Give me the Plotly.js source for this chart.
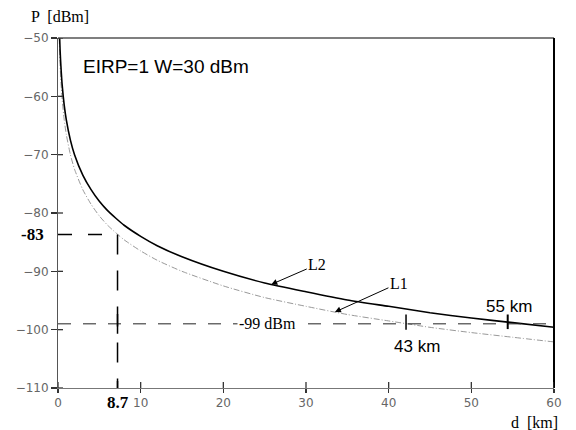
<!DOCTYPE html>
<html>
<head>
<meta charset="utf-8">
<script src="https://cdn.plot.ly/plotly-3.0.1.min.js"></script>
<style>html,body{margin:0;padding:0;background:#fff}#chart{width:576px;height:430px}</style>
</head>
<body>
<div id="chart"></div>
<script>
// distance d [km]
const distKm = [0.15, 0.2, 0.25, 0.3, 0.4, 0.5, 0.75, 1, 1.5, 2, 3, 4, 5, 6, 7, 8, 10, 12, 15, 20, 25, 30, 35, 40, 45, 50, 55, 60];
// received power P [dBm], curve L2 (solid)
const powerL2 = [null, -50.0, -52.0, -53.5, -56.0, -58.0, -61.5, -64.0, -67.5, -70.0, -73.5, -76.0, -78.0, -79.6, -80.9, -82.1, -84.0, -85.6, -87.5, -90.0, -92.0, -93.5, -94.9, -96.0, -97.1, -98.0, -98.8, -99.6];
// received power P [dBm], curve L1 (dash-dot)
const powerL1 = [-50.0, -52.5, -54.5, -56.0, -58.5, -60.5, -64.0, -66.5, -70.0, -72.5, -76.0, -78.5, -80.5, -82.1, -83.4, -84.6, -86.5, -88.1, -90.0, -92.5, -94.5, -96.0, -97.4, -98.5, -99.6, -100.5, -101.3, -102.1];
// axis ticks
const xTicks = [0, 10, 20, 30, 40, 50, 60];
const yTicks = [-50, -60, -70, -80, -90, -100, -110];
// reference levels / distances as drawn
const sensLevel = -83.7;      // labelled -83
const sensLabel = '-83';
const sensDist = 7.2;         // labelled 8.7
const sensDistLabel = '8.7';
const thresholdLevel = -99;
const thresholdLabel = '-99 dBm';
const rangeL1 = 42.1;         // labelled 43 km
const rangeL1Label = '43 km';
const rangeL2 = 54.4;         // labelled 55 km
const rangeL2Label = '55 km';

function interp(xs, ys, x) {
  for (let i = 1; i < xs.length; i++) {
    if (ys[i-1] == null) continue;
    if (x <= xs[i]) {
      const t = (x - xs[i-1]) / (xs[i] - xs[i-1]);
      return ys[i-1] + t * (ys[i] - ys[i-1]);
    }
  }
  return ys[ys.length-1];
}

const sansTick = {family: 'DejaVu Sans', size: 12, color: '#666'};
const serif = 'Liberation Serif';
const sans = 'Liberation Sans';

const traces = [
  {x: distKm, y: powerL1, mode: 'lines', line: {color: '#999', width: 1, dash: '6px,2px,1px,2px', shape: 'spline', smoothing: 0.6}, showlegend: false, hoverinfo: 'skip', connectgaps: false},
  {x: distKm, y: powerL2, mode: 'lines', line: {color: '#000', width: 1.6, shape: 'spline', smoothing: 0.6}, showlegend: false, hoverinfo: 'skip', connectgaps: false}
];

const plotW = 496, plotH = 350;
const shapes = [
  // top and right frame
  {type: 'line', xref: 'paper', yref: 'paper', x0: 0, x1: 1, y0: 1, y1: 1, line: {color: '#555', width: 1.5}},
  {type: 'line', xref: 'paper', yref: 'paper', x0: 1, x1: 1, y0: 0, y1: 1, line: {color: '#000', width: 2}},
  // -83 dBm horizontal and 8.7 km vertical dashed guides
  {type: 'line', xref: 'x', yref: 'y', x0: 0, x1: sensDist, y0: sensLevel, y1: sensLevel, line: {color: '#000', width: 1.5, dash: '14px,16px'}},
  {type: 'line', xref: 'x', yref: 'y', x0: sensDist, x1: sensDist, y0: sensLevel, y1: -110, line: {color: '#000', width: 1.5, dash: '20px,16px'}},
  // -99 dBm threshold dashed
  {type: 'line', xref: 'x', yref: 'y', x0: 0, x1: 60, y0: thresholdLevel, y1: thresholdLevel, line: {color: '#222', width: 1, dash: '13px,12px'}},
  // cross marks on threshold line
  {type: 'line', xref: 'x', yref: 'y', x0: sensDist, x1: sensDist, y0: thresholdLevel + 1.7, y1: thresholdLevel - 1.7, line: {color: '#000', width: 1.5}},
  {type: 'line', xref: 'x', yref: 'y', x0: rangeL1, x1: rangeL1, y0: thresholdLevel + 1.6, y1: thresholdLevel - 1.0, line: {color: '#000', width: 1.5}},
  {type: 'line', xref: 'x', yref: 'y', x0: rangeL2, x1: rangeL2, y0: thresholdLevel + 1.6, y1: thresholdLevel - 0.9, line: {color: '#000', width: 2}},
  // tick on the axis at 8.7
  {type: 'line', xref: 'x', yref: 'paper', x0: sensDist, x1: sensDist, y0: 0, y1: 7 / plotH, line: {color: '#000', width: 1.5}}
];
// inner half of the crossing tick marks
xTicks.forEach(v => shapes.push({type: 'line', xref: 'x', yref: 'paper', x0: v, x1: v, y0: 0, y1: 6 / plotH, line: {color: '#333', width: 1.3}}));
yTicks.forEach(v => shapes.push({type: 'line', xref: 'paper', yref: 'y', x0: 0, x1: 5 / plotW, y0: v, y1: v, line: {color: '#333', width: 1.3}}));

const tipL2x = 25.8, tipL1x = 33.5;
const annotations = [
  {xref: 'paper', yref: 'paper', x: -0.058, y: 1.0, yshift: 22, xanchor: 'left', yanchor: 'middle', text: 'P  [dBm]', showarrow: false, font: {family: serif, size: 16, color: '#000'}},
  {xref: 'paper', yref: 'paper', x: 1.013, y: 0, yshift: -34, xanchor: 'right', yanchor: 'middle', text: 'd  [km]', showarrow: false, font: {family: serif, size: 16, color: '#000'}},
  {xref: 'x', yref: 'y', x: 2.8, y: -54.9, xanchor: 'left', yanchor: 'middle', text: 'EIRP=1 W=30 dBm', showarrow: false, font: {family: sans, size: 19, color: '#000'}},
  {xref: 'paper', yref: 'y', x: 0, xshift: -12, y: sensLevel, xanchor: 'right', yanchor: 'middle', text: '<b>' + sensLabel + '</b>', showarrow: false, font: {family: serif, size: 17, color: '#000'}},
  {xref: 'x', yref: 'paper', x: sensDist, y: 0, yshift: -14, xanchor: 'center', yanchor: 'middle', text: '<b>' + sensDistLabel + '</b>', showarrow: false, font: {family: serif, size: 17, color: '#000'}},
  {xref: 'x', yref: 'y', x: 25.3, y: thresholdLevel, xanchor: 'center', yanchor: 'middle', text: thresholdLabel, showarrow: false, bgcolor: '#fff', borderpad: 1, font: {family: serif, size: 16, color: '#000'}},
  {xref: 'x', yref: 'y', x: rangeL2 + 0.2, y: thresholdLevel + 3.0, xanchor: 'center', yanchor: 'middle', text: rangeL2Label, showarrow: false, font: {family: sans, size: 17, color: '#000'}},
  {xref: 'x', yref: 'y', x: rangeL1 + 1.3, y: thresholdLevel - 3.9, xanchor: 'center', yanchor: 'middle', text: rangeL1Label, showarrow: false, font: {family: sans, size: 17, color: '#000'}},
  {xref: 'x', yref: 'y', x: tipL2x, y: interp(distKm, powerL2, tipL2x), text: 'L2', showarrow: true, arrowhead: 2, arrowsize: 1.2, arrowwidth: 1, arrowcolor: '#000', ax: 46, ay: -20, standoff: 0, font: {family: serif, size: 16, color: '#000'}},
  {xref: 'x', yref: 'y', x: tipL1x, y: interp(distKm, powerL1, tipL1x), text: 'L1', showarrow: true, arrowhead: 2, arrowsize: 1.2, arrowwidth: 1, arrowcolor: '#000', ax: 64, ay: -29, standoff: 0, font: {family: serif, size: 16, color: '#000'}}
];

const layout = {
  width: 576, height: 430,
  margin: {l: 58, r: 22, t: 38, b: 42, pad: 0},
  paper_bgcolor: '#fff', plot_bgcolor: '#fff',
  showlegend: false,
  xaxis: {range: [0, 60], tickvals: xTicks, ticktext: xTicks.map(String), ticks: 'outside', ticklen: 4, tickwidth: 1.3, tickcolor: '#333',
          showline: true, linecolor: '#777', linewidth: 1, showgrid: false, zeroline: false, tickfont: sansTick, fixedrange: true},
  yaxis: {range: [-110, -50], tickvals: yTicks, ticks: 'outside', ticklen: 6, tickwidth: 1.3, tickcolor: '#333',
          showline: true, linecolor: '#555', linewidth: 1, showgrid: false, zeroline: false, tickfont: sansTick, fixedrange: true},
  shapes: shapes,
  annotations: annotations
};

Plotly.newPlot('chart', traces, layout, {staticPlot: true, displayModeBar: false});
</script>
</body>
</html>
